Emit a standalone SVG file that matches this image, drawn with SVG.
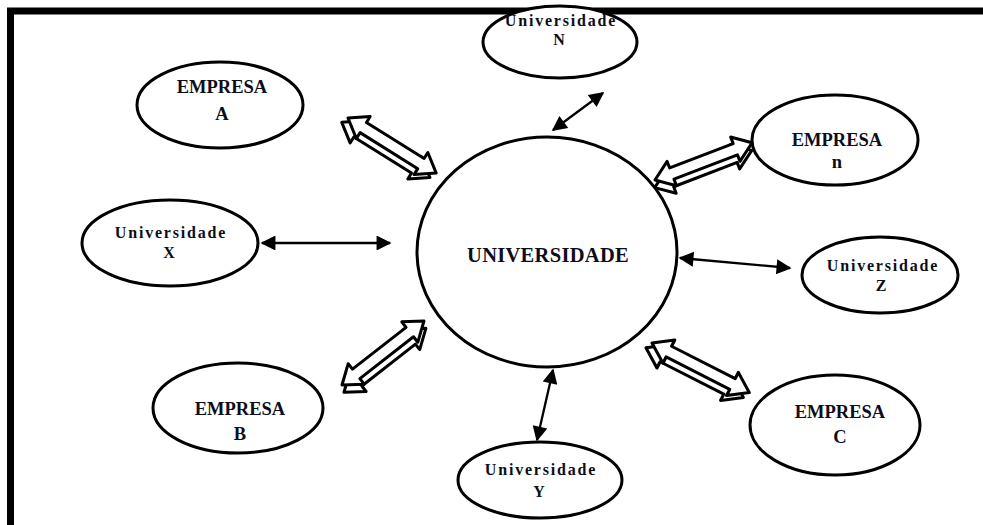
<svg xmlns="http://www.w3.org/2000/svg" xmlns:xlink="http://www.w3.org/1999/xlink" width="983" height="525" viewBox="0 0 983 525">
  <style>
    .node { fill: #ffffff; stroke: #000000; stroke-width: 3; }
    .big { font-family: "Liberation Serif", "Times New Roman", serif; font-weight: bold; font-size: 18.5px; fill: #0d0d1a; text-anchor: middle; }
    .small { font-family: "Liberation Serif", "Times New Roman", serif; font-weight: bold; font-size: 16px; letter-spacing: 1.8px; fill: #0d0d1a; text-anchor: middle; }
    .center { font-family: "Liberation Serif", "Times New Roman", serif; font-weight: bold; font-size: 20.5px; letter-spacing: 0.3px; fill: #0d0d1a; text-anchor: middle; }
    .thin { fill: none; stroke: #000000; stroke-width: 2.3; marker-start: url(#head); marker-end: url(#head); }
    .hollow { fill: #ffffff; stroke: #000000; stroke-width: 3; stroke-linejoin: round; }
  </style>
  <defs>
    <marker id="head" viewBox="0 0 10 10" refX="9" refY="5" markerWidth="8" markerHeight="6.5" orient="auto-start-reverse" markerUnits="strokeWidth">
      <path d="M0,0 L10,5 L0,10 Z" fill="#000000"/>
    </marker>
    <!-- hollow double-headed block arrow, 104 long, drawn along +x -->
    <polygon id="block" points="0,0 18,-13 18,-6 86,-6 86,-13 104,0 86,13 86,6 18,6 18,13"/>
    <g id="block3d">
      <use xlink:href="#block" class="hollow" transform="translate(-3,7)"/>
      <use xlink:href="#block" class="hollow"/>
    </g>
  </defs>

  <!-- frame -->
  <rect x="10.5" y="11" width="990" height="530" fill="none" stroke="#000000" stroke-width="7"/>

  <!-- connectors -->
  <g id="connectors">
    <line class="thin" x1="553" y1="130" x2="603" y2="93"/>
    <line class="thin" x1="262" y1="243" x2="390" y2="243"/>
    <line class="thin" x1="680" y1="258" x2="790" y2="268"/>
    <line class="thin" x1="553" y1="370" x2="537" y2="440"/>
    <use xlink:href="#block3d" transform="translate(348,118) rotate(32)"/>
    <use xlink:href="#block3d" transform="translate(655,180) rotate(-21)"/>
    <use xlink:href="#block3d" transform="translate(342,385) rotate(-38)"/>
    <use xlink:href="#block3d" transform="translate(652,343) rotate(27) scale(1.05,1)"/>
  </g>

  <g id="universidade">
    <ellipse class="node" cx="547" cy="252" rx="130" ry="115"/>
    <text class="center" x="548" y="262">UNIVERSIDADE</text>
  </g>

  <g id="empresa-a">
    <ellipse class="node" cx="220" cy="105" rx="83" ry="43"/>
    <text class="big" x="222" y="93">EMPRESA</text>
    <text class="big" x="222" y="120">A</text>
  </g>

  <g id="universidade-n">
    <ellipse class="node" cx="560" cy="42" rx="77" ry="36"/>
    <text class="small" x="561" y="26">Universidade</text>
    <text class="small" x="560" y="45">N</text>
  </g>

  <g id="empresa-n">
    <ellipse class="node" cx="835" cy="140" rx="83" ry="45"/>
    <text class="big" x="837" y="146">EMPRESA</text>
    <text class="big" x="837" y="168">n</text>
  </g>

  <g id="universidade-x">
    <ellipse class="node" cx="170" cy="243" rx="88" ry="43"/>
    <text class="small" x="171" y="238">Universidade</text>
    <text class="small" x="170" y="258">X</text>
  </g>

  <g id="universidade-z">
    <ellipse class="node" cx="880" cy="275" rx="78" ry="38"/>
    <text class="small" x="883" y="271">Universidade</text>
    <text class="small" x="882" y="291">Z</text>
  </g>

  <g id="empresa-b">
    <ellipse class="node" cx="238" cy="408" rx="85" ry="45"/>
    <text class="big" x="240" y="415">EMPRESA</text>
    <text class="big" x="240" y="440">B</text>
  </g>

  <g id="empresa-c">
    <ellipse class="node" cx="835" cy="425" rx="85" ry="50"/>
    <text class="big" x="840" y="418">EMPRESA</text>
    <text class="big" x="840" y="443">C</text>
  </g>

  <g id="universidade-y">
    <ellipse class="node" cx="540" cy="480" rx="82" ry="38"/>
    <text class="small" x="541" y="475">Universidade</text>
    <text class="small" x="540" y="497">Y</text>
  </g>
</svg>
